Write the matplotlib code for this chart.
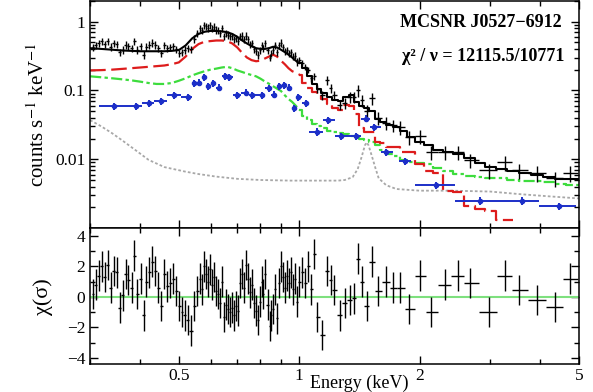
import numpy as np
import matplotlib.pyplot as plt
from matplotlib.ticker import FixedLocator, NullFormatter, FixedFormatter

plt.rcParams['font.family'] = ['Liberation Serif', 'DejaVu Serif']
plt.rcParams['mathtext.fontset'] = 'stix'

# black data (pn spectrum), energies in keV
energy = [0.305, 0.310, 0.315, 0.321, 0.326, 0.332, 0.338, 0.344, 0.350, 0.356,
          0.362, 0.368, 0.374, 0.381, 0.387, 0.394, 0.401, 0.408, 0.415, 0.422,
          0.429, 0.437, 0.444, 0.452, 0.460, 0.468, 0.476, 0.484, 0.492, 0.501,
          0.509, 0.518, 0.527, 0.536, 0.546, 0.555,
          0.565, 0.572, 0.578, 0.585, 0.591, 0.598, 0.605, 0.612, 0.619, 0.626,
          0.633, 0.640, 0.648, 0.655, 0.663, 0.670, 0.678, 0.686, 0.694, 0.702,
          0.710, 0.718, 0.726, 0.734, 0.743, 0.751, 0.760, 0.769, 0.778, 0.787,
          0.796, 0.805, 0.814, 0.823, 0.833, 0.843, 0.852, 0.862, 0.872, 0.882,
          0.892, 0.902, 0.913, 0.923, 0.934, 0.944, 0.955, 0.966, 0.977, 0.989,
          1.000, 1.017, 1.035, 1.053, 1.071, 1.090, 1.110, 1.141, 1.174, 1.200,
          1.222, 1.264, 1.301, 1.339, 1.369, 1.401, 1.434, 1.475, 1.517, 1.570,
          1.644, 1.720, 1.791, 1.885, 2.007, 2.137, 2.315, 2.494, 2.672, 2.974,
          3.277, 3.551, 3.940, 4.370, 4.760]
counts = [0.42, 0.45, 0.48, 0.52, 0.47, 0.52, 0.43, 0.48, 0.47, 0.36,
          0.39, 0.46, 0.44, 0.41, 0.52, 0.39, 0.44, 0.33, 0.43, 0.46,
          0.49, 0.46, 0.41, 0.35, 0.45, 0.41, 0.42, 0.44, 0.40, 0.35,
          0.36, 0.39, 0.41, 0.40, 0.56, 0.67,
          0.80, 0.75, 0.88, 0.85, 0.81, 0.88, 0.79, 0.84, 0.76, 0.74,
          0.68, 0.80, 0.61, 0.67, 0.64, 0.61, 0.61, 0.55, 0.57, 0.52,
          0.61, 0.62, 0.55, 0.62, 0.55, 0.47, 0.48, 0.40, 0.37, 0.33,
          0.38, 0.45, 0.41, 0.48, 0.38, 0.30, 0.35, 0.39, 0.45, 0.36,
          0.45, 0.49, 0.42, 0.37, 0.38, 0.35, 0.36, 0.31, 0.32, 0.26,
          0.28, 0.25, 0.22, 0.20, 0.15, 0.16, 0.105, 0.085, 0.14, 0.107,
          0.085, 0.062, 0.066, 0.079, 0.080, 0.100, 0.072, 0.050, 0.077, 0.040,
          0.034, 0.031, 0.029, 0.021, 0.0216, 0.0126, 0.0126, 0.0126, 0.0097, 0.0069,
          0.0090, 0.0069, 0.0063, 0.0053, 0.0063]
counts_frac_err = [0.12] * 86 + [
          0.10, 0.10, 0.11, 0.11, 0.12, 0.12, 0.13, 0.14, 0.15, 0.15,
          0.16, 0.17, 0.18, 0.18, 0.19, 0.20, 0.20, 0.21, 0.21, 0.21,
          0.21, 0.21, 0.22, 0.22, 0.22, 0.22, 0.23, 0.23, 0.23, 0.24,
          0.24, 0.24, 0.25, 0.25, 0.25]
resid = [0.2, 0.8, 1.4, 2.0, 1.3, 2.1, 0.6, 1.7, 1.6, -0.7,
         0.1, 1.5, 1.1, 0.6, 2.7, 0.2, 1.2, -1.2, 1.0, 1.6,
         2.3, 1.7, 0.6, -0.6, 1.5, 0.7, 0.9, 1.2, 0.4, -0.6,
         -1.0, -1.2, -1.5, -2.2, -0.6, 0.4,
         1.2, 0.5, 2.0, 1.5, 1.0, 1.8, 0.8, 1.3, 0.4, 0.2,
         -0.4, 1.0, -1.3, -0.5, -0.8, -1.0, -0.7, -1.2, -0.6, -0.9,
         0.9, 1.5, 0.6, 2.1, 1.2, 0.3, 0.8, -0.4, -0.9, -1.5,
         -0.3, 1.0, 0.2, 1.5, -0.5, -1.9, -1.2, -0.8, 0.5, -1.4,
         0.9, 2.0, 1.3, 0.6, 1.4, 0.9, 1.6, 0.5, 1.2, -0.3,
         1.0, 1.6, 0.9, 2.0, 0.5, 2.8, -1.3, -2.5, 1.7, 1.1,
         0.45, -1.2, -0.4, -0.2, -0.1, 2.5, 1.0, -0.6, 2.3, 0.4,
         1.0, 0.6, 0.6, -0.8, 1.4, -1.0, 0.8, 1.4, 0.9, -1.0,
         1.4, 0.45, -0.2, -0.65, 1.2]

# blue data (second spectrum)
blue_e = [0.345, 0.390, 0.420, 0.452, 0.487, 0.527, 0.546, 0.562, 0.578, 0.591,
          0.608, 0.630, 0.651, 0.666, 0.698, 0.734, 0.764, 0.805, 0.838, 0.867,
          0.892, 0.918, 0.944, 0.972, 0.994, 1.041, 1.108, 1.180, 1.270, 1.385,
          1.466, 1.535, 1.650, 1.840, 2.200, 2.830, 3.610, 4.470]
blue_lo = [0.315, 0.374, 0.405, 0.434, 0.468, 0.505, 0.538, 0.554, 0.570, 0.585,
           0.600, 0.620, 0.641, 0.658, 0.683, 0.716, 0.749, 0.785, 0.822, 0.852,
           0.880, 0.905, 0.931, 0.958, 0.983, 1.017, 1.060, 1.145, 1.230, 1.330,
           1.430, 1.500, 1.600, 1.780, 1.950, 2.450, 3.220, 3.980]
blue_hi = [0.374, 0.405, 0.434, 0.468, 0.505, 0.538, 0.554, 0.570, 0.585, 0.600,
           0.620, 0.641, 0.658, 0.683, 0.716, 0.749, 0.785, 0.822, 0.852, 0.880,
           0.905, 0.931, 0.958, 0.983, 1.017, 1.060, 1.145, 1.230, 1.330, 1.430,
           1.500, 1.600, 1.720, 1.900, 2.450, 3.220, 3.980, 4.920]
blue_val = [0.059, 0.059, 0.065, 0.069, 0.085, 0.080, 0.126, 0.130, 0.154, 0.114,
            0.126, 0.110, 0.160, 0.154, 0.085, 0.093, 0.085, 0.085, 0.107, 0.087,
            0.114, 0.118, 0.110, 0.055, 0.080, 0.065, 0.025, 0.037, 0.0215, 0.0215,
            0.039, 0.029, 0.0126, 0.0094, 0.0042, 0.0025, 0.0025, 0.0021]

# models
mod_e = [0.30, 0.32, 0.34, 0.36, 0.38, 0.40, 0.42, 0.44, 0.46, 0.48,
         0.50, 0.52, 0.54, 0.56, 0.58, 0.60, 0.62, 0.64, 0.66, 0.68,
         0.70, 0.72, 0.74, 0.76, 0.78, 0.80, 0.82, 0.84, 0.86, 0.88,
         0.90, 0.92, 0.94, 0.96, 0.98, 1.00, 1.03, 1.06, 1.09, 1.12,
         1.15, 1.19, 1.23, 1.27, 1.31, 1.35, 1.39, 1.43, 1.47, 1.52,
         1.57, 1.62, 1.68, 1.75, 1.82, 1.90, 2.00, 2.10, 2.22, 2.36,
         2.50, 2.66, 2.83, 3.00, 3.20, 3.42, 3.66, 3.92, 4.20, 4.50,
         4.80, 5.00]
total_model = [0.41, 0.40, 0.39, 0.38, 0.375, 0.37, 0.37, 0.37, 0.37, 0.375,
               0.385, 0.45, 0.57, 0.66, 0.71, 0.73, 0.73, 0.72, 0.70, 0.66,
               0.60, 0.53, 0.48, 0.44, 0.41, 0.40, 0.40, 0.41, 0.43, 0.42,
               0.39, 0.36, 0.33, 0.30, 0.27, 0.25, 0.21, 0.16, 0.125, 0.105,
               0.092, 0.080, 0.072, 0.070, 0.080, 0.085, 0.068, 0.060, 0.055, 0.050,
               0.038, 0.035, 0.031, 0.029, 0.026, 0.021, 0.018, 0.016, 0.0135, 0.0128,
               0.0118, 0.0103, 0.0088, 0.0078, 0.0072, 0.0068, 0.0063, 0.0059, 0.0055, 0.0052,
               0.0051, 0.0051]
red_model = [0.195, 0.197, 0.20, 0.205, 0.21, 0.215, 0.22, 0.225, 0.23, 0.24,
             0.255, 0.31, 0.40, 0.47, 0.51, 0.52, 0.53, 0.53, 0.52, 0.48,
             0.42, 0.35, 0.30, 0.275, 0.265, 0.27, 0.29, 0.31, 0.33, 0.31,
             0.27, 0.24, 0.21, 0.19, 0.18, 0.17, 0.13, 0.11, 0.095, 0.085,
             0.075, 0.063, 0.055, 0.052, 0.062, 0.060, 0.045, 0.028, 0.025, 0.025,
             0.018, 0.0175, 0.015, 0.015, 0.0126, 0.0126, 0.0085, 0.0068, 0.0063, 0.0035,
             0.0033, 0.0021, 0.0019, 0.0018, 0.0013, 0.0013]
green_model = [0.16, 0.155, 0.15, 0.145, 0.14, 0.134, 0.128, 0.124, 0.124, 0.128,
               0.138, 0.15, 0.165, 0.178, 0.19, 0.20, 0.207, 0.215, 0.22, 0.21,
               0.195, 0.185, 0.175, 0.167, 0.16, 0.148, 0.135, 0.125, 0.115, 0.106,
               0.098, 0.085, 0.075, 0.068, 0.060, 0.052, 0.043, 0.037, 0.033, 0.030,
               0.028, 0.026, 0.025, 0.024, 0.023, 0.022, 0.022, 0.020, 0.019, 0.018,
               0.016, 0.0135, 0.012, 0.011, 0.0097, 0.009, 0.0088, 0.0085, 0.0075, 0.0068,
               0.0062, 0.0057, 0.0055, 0.0053, 0.0053, 0.0050, 0.0049, 0.0048, 0.0046, 0.0044,
               0.0043, 0.0042]
gray_e = [0.30, 0.32, 0.34, 0.36, 0.39, 0.42, 0.46, 0.52, 0.56, 0.62,
          0.70, 0.80, 0.95, 1.10, 1.25, 1.30, 1.36, 1.40, 1.43, 1.46,
          1.475, 1.49, 1.52, 1.55, 1.58, 1.65, 1.75, 2.00, 2.40, 3.00,
          3.60, 4.20, 5.00]
gray_model = [0.037, 0.030, 0.024, 0.019, 0.0135, 0.0098, 0.0077, 0.0066, 0.0061, 0.0056,
              0.0052, 0.0050, 0.0049, 0.0049, 0.0049, 0.0050, 0.0055, 0.0072, 0.0105, 0.016,
              0.0176, 0.016, 0.011, 0.0075, 0.0053, 0.0042, 0.0037, 0.0035, 0.0035, 0.0034,
              0.0031, 0.0029, 0.0027]

# below ~1 keV the channels are fine enough that the model looks smooth
n_smooth = mod_e.index(1.00) + 1

energy = np.array(energy)
counts = np.array(counts)
# bin edges halfway (in log) between neighbouring channels
mid = np.sqrt(energy[1:] * energy[:-1])
lo_edge = np.concatenate([[energy[0] ** 2 / mid[0]], mid])
hi_edge = np.concatenate([mid, [energy[-1] ** 2 / mid[-1]]])
xerr = [energy - lo_edge, hi_edge - energy]
yerr = counts * np.array(counts_frac_err)

blue_e = np.array(blue_e)
blue_val = np.array(blue_val)
bxerr = [blue_e - np.array(blue_lo), np.array(blue_hi) - blue_e]


def model_line(ax, e, v, **kw):
    # smooth part, then the binned (stepped) part
    ax.plot(e[:n_smooth], v[:n_smooth], **kw)
    ax.plot(e[n_smooth - 1:], v[n_smooth - 1:], drawstyle='steps-mid', **kw)


fig = plt.figure(figsize=(5.93, 3.92), dpi=100)
ax1 = fig.add_axes([0.152, 0.418, 0.824, 0.580])
ax2 = fig.add_axes([0.152, 0.071, 0.824, 0.347], sharex=ax1)

ax1.plot(gray_e, gray_model, color='#a8a8a8', ls=(0, (1.5, 1.2)), lw=1.3)
model_line(ax1, mod_e, green_model, color='#3ddc3d', ls=(0, (5, 1.5, 1.5, 1.5)), lw=1.6)
model_line(ax1, mod_e[:len(red_model)], red_model, color='#dd1c1c', ls=(0, (7, 2.5)), lw=1.6)
ax1.errorbar(blue_e, blue_val, xerr=bxerr, yerr=blue_val * 0.12, fmt='o', ms=3,
             color='#1c2fc8', elinewidth=1.4, capsize=0)
ax1.errorbar(energy, counts, xerr=xerr, yerr=yerr, fmt='none', ecolor='black',
             elinewidth=1.0, capsize=0)
model_line(ax1, mod_e, total_model, color='black', lw=1.5)

ax1.set_xscale('log')
ax1.set_yscale('log')
ax1.set_xlim(0.3, 5)
ax1.set_ylim(0.001, 2)
ax1.yaxis.set_major_locator(FixedLocator([0.01, 0.1, 1]))
ax1.yaxis.set_major_formatter(FixedFormatter(['0.01', '0.1', '1']))
ax1.set_ylabel(r'counts s$^{-1}$ keV$^{-1}$', fontsize=15, labelpad=4)

ax1.text(0.965, 0.905, 'MCSNR J0527\u22126912', transform=ax1.transAxes,
         ha='right', va='center', fontsize=13, fontweight='bold')
ax1.text(0.97, 0.755, '\u03c7\u00b2 / \u03bd = 12115.5/10771', transform=ax1.transAxes,
         ha='right', va='center', fontsize=13, fontweight='bold')

# residuals
ax2.axhline(0, color='#7ee07e', lw=1.5)
ax2.errorbar(energy, resid, xerr=xerr, yerr=1, fmt='none', ecolor='black',
             elinewidth=1.0, capsize=0)
ax2.set_ylim(-4.4, 4.5)
ax2.yaxis.set_major_locator(FixedLocator([-4, -2, 0, 2, 4]))
ax2.yaxis.set_minor_locator(FixedLocator([-3, -1, 1, 3]))
ax2.set_ylabel('\u03c7(\u03c3)', fontsize=16, labelpad=10)

for ax in (ax1, ax2):
    ax.xaxis.set_major_locator(FixedLocator([0.5, 1, 2, 5]))
    ax.xaxis.set_minor_locator(FixedLocator([0.3, 0.4, 0.6, 0.7, 0.8, 0.9, 3, 4]))
    ax.xaxis.set_minor_formatter(NullFormatter())
    ax.tick_params(which='both', direction='in', top=True, right=True,
                   labelsize=12.5, width=1.0)
    ax.tick_params(which='major', length=6)
    ax.tick_params(which='minor', length=3.5)
    for s in ax.spines.values():
        s.set_linewidth(1.1)

ax2.xaxis.set_major_formatter(FixedFormatter(['0.5', '1', '2', '5']))
plt.setp(ax1.get_xticklabels(), visible=False)
ax2.tick_params(axis='x', pad=3)

fig.text(0.605, 0.022, 'Energy (keV)', ha='center', va='center', fontsize=13)

fig.savefig('out.png', dpi=100)
